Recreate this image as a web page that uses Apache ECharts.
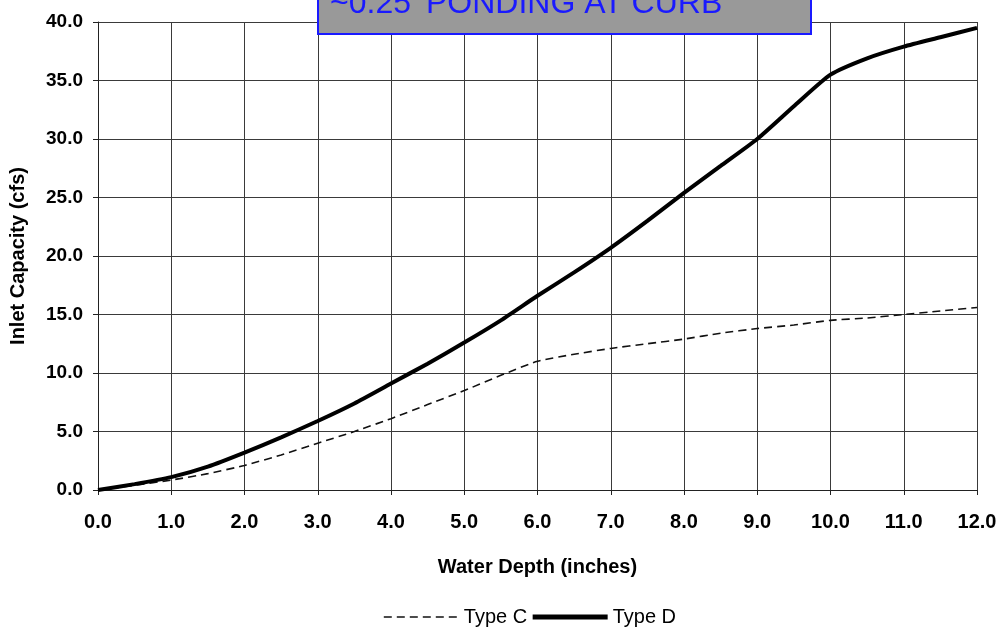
<!DOCTYPE html>
<html>
<head>
<meta charset="utf-8">
<script src="https://cdn.jsdelivr.net/npm/echarts@6/dist/echarts.min.js"></script>
<style>
    html, body { margin: 0; padding: 0; background: #fff; }
    #chart { width: 1005px; height: 634px; }
</style>
</head>
<body>
<div id="chart"></div>
<script>
// water depth (inches)
var depth = [0, 0.5, 1, 1.5, 2, 2.5, 3, 3.5, 4, 4.5, 5, 5.5, 6, 6.5, 7, 7.5, 8, 8.5, 9, 9.5, 10, 10.5, 11, 11.5, 12]
// inlet capacity (cfs)
var typeC = [0, 0.4, 0.85, 1.4, 2.1, 3.0, 4.0, 5.0, 6.1, 7.3, 8.5, 9.8, 11.0, 11.6, 12.1, 12.5, 12.9, 13.4, 13.8, 14.1, 14.5, 14.7, 15.0, 15.3, 15.6]
var typeD = [0, 0.5, 1.1, 2.0, 3.2, 4.5, 5.9, 7.4, 9.1, 10.8, 12.6, 14.5, 16.6, 18.6, 20.7, 23.0, 25.4, 27.7, 30.0, 32.8, 35.5, 36.9, 37.9, 38.7, 39.5]
var noteText = "~0.25' PONDING AT CURB"

function pairs(ys) {
    return depth.map(function(x, i) { return [x, ys[i]] })
}

var chart = echarts.init(document.getElementById('chart'))
var font = 'Liberation Sans, Arial, sans-serif'
var bold = function(size) {
    return { fontFamily: font, fontWeight: 'bold', fontSize: size, color: '#000' }
}
var fmt = function(v) { return v.toFixed(1) }

var option = {
    animation: false,
    grid: {
        left: 98,
        right: 28,
        top: 22,
        bottom: 144,
        outerBoundsMode: 'none'
    },
    legend: {
        bottom: 2,
        left: 378,
        itemWidth: 75,
        itemHeight: 12,
        itemGap: 3,
        itemStyle: { opacity: 0 },
        textStyle: { fontFamily: font, fontSize: 20, color: '#000' },
        data: [
            { name: 'Type C', lineStyle: { width: 1.6 } },
            { name: 'Type D', lineStyle: { width: 5 } }
        ]
    },
    xAxis: {
        type: 'value',
        min: 0,
        max: 12,
        interval: 1,
        name: 'Water Depth (inches)',
        nameLocation: 'middle',
        nameGap: 67,
        nameTextStyle: bold(20),
        axisLine: { show: true, lineStyle: { color: '#222', width: 1 } },
        axisTick: { show: true, length: 5, lineStyle: { color: '#222' } },
        axisLabel: Object.assign({ margin: 22, formatter: fmt }, bold(20)),
        splitLine: { show: true, lineStyle: { color: '#3a3a3a', width: 1 } }
    },
    yAxis: {
        type: 'value',
        min: 0,
        max: 40,
        interval: 5,
        name: 'Inlet Capacity (cfs)',
        nameLocation: 'middle',
        nameGap: 70,
        nameTextStyle: bold(20),
        axisLine: { show: true, lineStyle: { color: '#222', width: 1 } },
        axisTick: { show: true, length: 5, lineStyle: { color: '#222' } },
        axisLabel: Object.assign({ margin: 15, formatter: fmt }, bold(19)),
        splitLine: { show: true, lineStyle: { color: '#3a3a3a', width: 1 } }
    },
    series: [
        {
            name: 'Type C',
            type: 'line',
            data: pairs(typeC),
            symbol: 'none',
            smooth: 0.2,
            lineStyle: { color: '#111', width: 1.6, type: [8, 5] },
            itemStyle: { color: '#111' }
        },
        {
            name: 'Type D',
            type: 'line',
            data: pairs(typeD),
            symbol: 'none',
            smooth: 0.2,
            lineStyle: { color: '#000', width: 4 },
            itemStyle: { color: '#000' }
        }
    ],
    graphic: [
        {
            type: 'rect',
            left: 317,
            top: -10,
            shape: { width: 493, height: 43 },
            style: { fill: '#999999', stroke: '#1a1aff', lineWidth: 2 },
            z: 100
        },
        {
            type: 'text',
            left: 330,
            top: -12,
            style: {
                text: noteText,
                fill: '#1a1aff',
                font: '32px "Liberation Sans", Arial, sans-serif'
            },
            z: 101
        }
    ]
}

chart.setOption(option)
</script>
</body>
</html>
